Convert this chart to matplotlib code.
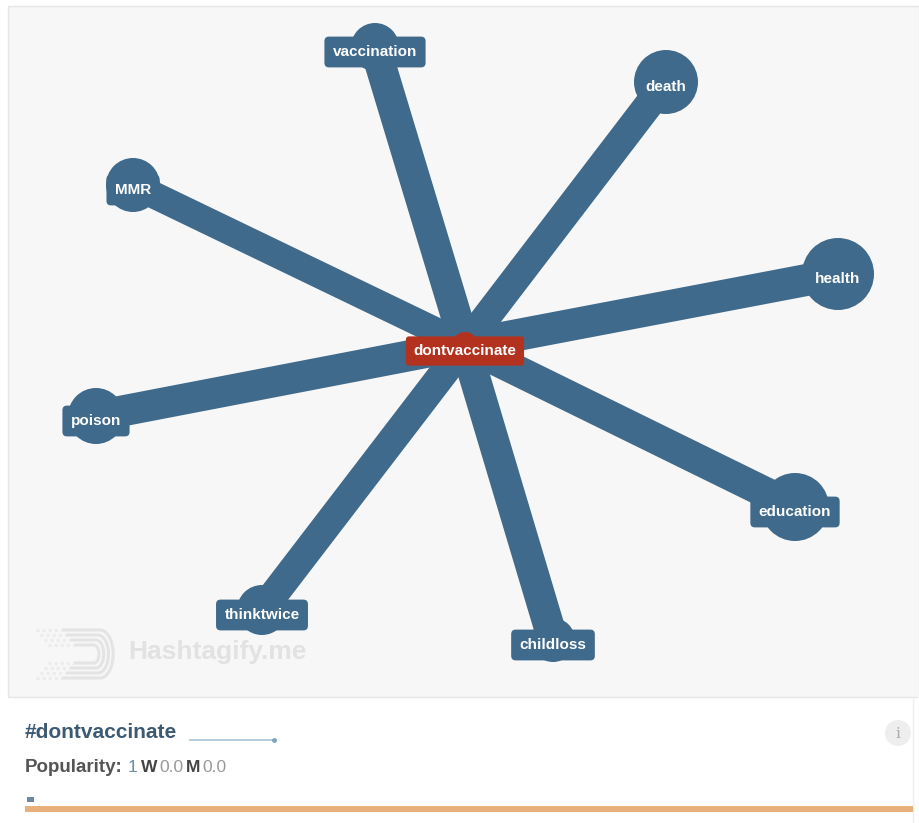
import numpy as np
import matplotlib
matplotlib.use("Agg")
import matplotlib.pyplot as plt
from matplotlib.patches import Circle, Rectangle

# hashtag graph for #dontvaccinate (layout, pixels)
center_tag = "dontvaccinate"
center_xy = (465, 345)
tags = ["vaccination", "death", "MMR", "health", "poison",
        "education", "thinktwice", "childloss"]
tag_x = [375, 666, 133, 838, 96, 795, 262, 553]
tag_y = [47, 82, 185, 274, 416, 507, 610, 640]
tag_size = [24, 32, 27, 36, 28, 34, 25, 22]      # node radius
edge_weight = [31, 29, 27, 32, 31, 31, 29, 31]  # edge thickness

popularity_labels = ["1", "W", "0.0", "M", "0.0"]

BLUE = "#3f6a8c"
RED = "#b2321f"
PX = 72 / 100  # px -> pt at dpi 100
FONT = "Liberation Sans"

fig = plt.figure(figsize=(9.19, 8.23), dpi=100)
ax = fig.add_axes([0, 0, 1, 1])
ax.set_xlim(0, 919)
ax.set_ylim(823, 0)
ax.axis("off")
renderer = fig.canvas.get_renderer()

# panels
ax.add_patch(Rectangle((0, 0), 919, 823, fc="white", ec="none", zorder=0))
ax.add_patch(Rectangle((8, 6), 911, 691, fc="#f7f7f7", ec="#e6e6e6", lw=1, zorder=0))
ax.plot([913, 913], [697, 823], color="#eeeeee", lw=1, zorder=0)

# watermark logo
for i in range(4):
    yt = 630 + i * 5
    yb = 678 - i * 5
    r = (yb - yt) / 2
    xr = 100 - i * 2
    t = np.linspace(0, np.pi, 30)
    xs = np.concatenate([[62 + i * 4, xr], xr + r * 0.55 * np.sin(t), [xr, 62 + i * 4]])
    ys = np.concatenate([[yt, yt], yt + r - r * np.cos(t), [yb, yb]])
    ax.plot(xs, ys, color="#e4e4e4", lw=2.2, zorder=1, solid_capstyle="butt")
    ax.plot([36 + i * 4, 62 + i * 4], [yt, yt], color="#ececec", lw=2.2, ls=(0, (1, 1)), zorder=1)
    ax.plot([36 + i * 4, 62 + i * 4], [yb, yb], color="#ececec", lw=2.2, ls=(0, (1, 1)), zorder=1)
ax.text(128, 652, "Hashtagify.me", fontsize=19, fontweight="bold",
        family=FONT, color="#e2e2e2", va="center", ha="left", zorder=1)

# edges
for x, y, w in zip(tag_x, tag_y, edge_weight):
    ax.plot([center_xy[0], x], [center_xy[1], y], color=BLUE, lw=w * PX,
            solid_capstyle="round", zorder=2)

# nodes: the label box only shows when the name is wider than the bubble
for name, x, y, r in zip(tags, tag_x, tag_y, tag_size):
    ax.add_patch(Circle((x, y), r, fc=BLUE, ec="none", zorder=3))
    lab = ax.text(x, y + 5, name, fontsize=11, fontweight="bold", family=FONT,
                  color="white", ha="center", va="center", zorder=4)
    if lab.get_window_extent(renderer).width + 14 > 1.8 * r:
        lab.set_bbox(dict(boxstyle="round,pad=0.55,rounding_size=0.3", fc=BLUE, ec="none"))

ax.add_patch(Circle(center_xy, 13, fc=RED, ec="none", zorder=3))
ax.text(center_xy[0], center_xy[1] + 6, center_tag, fontsize=11, fontweight="bold",
        family=FONT, color="white", ha="center", va="center", zorder=4,
        bbox=dict(boxstyle="round,pad=0.5,rounding_size=0.2", fc=RED, ec="none"))

# bottom info panel
ax.text(25, 733, "#" + center_tag, fontsize=15, fontweight="bold",
        family=FONT, color="#3d5a73", ha="left", va="center")
ax.plot([190, 274], [740, 740], color="#a9c4d6", lw=1.2)
ax.plot([274], [740], marker="o", ms=2.5, color="#7fa3bd")

t = ax.text(25, 768, "Popularity:", fontsize=13.5, fontweight="bold",
            family=FONT, color="#555555", ha="left", va="center")
pop_color = ["#6d8fa8", "#444444", "#999999", "#444444", "#999999"]
pop_weight = ["normal", "bold", "normal", "bold", "normal"]
pop_gap = [5, 3, 2, 3, 2]
for lab, c, fw, gap in zip(popularity_labels, pop_color, pop_weight, pop_gap):
    bb = t.get_window_extent(renderer)
    x_next = ax.transData.inverted().transform((bb.x1, 0))[0] + gap
    t = ax.text(x_next, 768, lab, fontsize=12.5, fontweight=fw,
                family=FONT, color=c, ha="left", va="center")

ax.add_patch(Rectangle((27, 797), 7, 5, fc="#6d87a0", ec="none"))
ax.add_patch(Rectangle((25, 806), 888, 6, fc="#e8b07a", ec="none"))

# info icon
ax.add_patch(Circle((898, 733), 13, fc="#eeeeee", ec="none"))
ax.text(898, 734, "i", fontsize=11, family="DejaVu Serif", color="#aaaaaa",
        ha="center", va="center")

fig.savefig("out.png", dpi=100)
